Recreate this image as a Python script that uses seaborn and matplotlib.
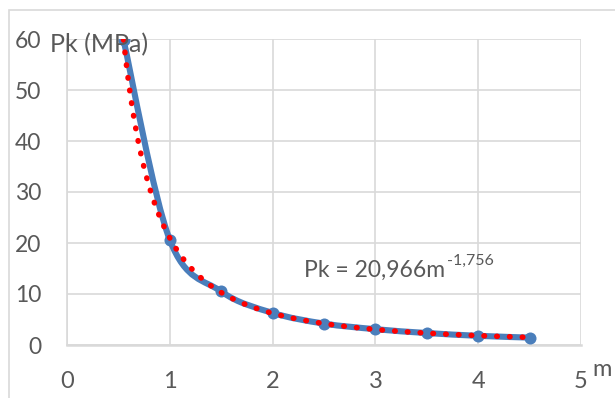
import numpy as np
import pandas as pd
import matplotlib
matplotlib.use("Agg")
import matplotlib.pyplot as plt
import seaborn as sns
from matplotlib.patches import Rectangle, PathPatch
from matplotlib.path import Path

# Data
m_values = [0.55, 1.0, 1.5, 2.0, 2.5, 3.0, 3.5, 4.0, 4.5]
pk_values = [59.8, 20.6, 10.5, 6.3, 4.2, 3.1, 2.35, 1.8, 1.45]
# Power trendline shown on the chart: Pk = 20,966 m^-1,756
trend_coef = 20.966
trend_exp = -1.756
x_ticks = [0, 1, 2, 3, 4, 5]
y_ticks = [0, 10, 20, 30, 40, 50, 60]

sns.set_theme(style="white")
plt.rcParams['font.family'] = ['Lato', 'DejaVu Sans']

W, H = 615, 398
fig = plt.figure(figsize=(W / 100, H / 100), dpi=100)
fig.patch.set_facecolor("white")
x0, x1, y0, y1 = 67, 581, 39, 345
ax = fig.add_axes([x0 / W, 1 - y1 / H, (x1 - x0) / W, (y1 - y0) / H])

BLUE = "#4a7ebb"
GREY = "#595959"
df = pd.DataFrame({"m": m_values, "Pk": pk_values})

# smoothed line through the data points (Excel-like smoothing, Bezier segments)
pts = df[["m", "Pk"]].to_numpy()
n = len(pts)
verts = [pts[0]]
codes = [Path.MOVETO]
for i in range(n - 1):
    p_prev = pts[i - 1] if i > 0 else pts[i]
    p_next2 = pts[i + 2] if i + 2 < n else pts[i + 1]
    c1 = pts[i] + (pts[i + 1] - p_prev) / 6.0
    c2 = pts[i + 1] - (p_next2 - pts[i]) / 6.0
    verts += [c1, c2, pts[i + 1]]
    codes += [Path.CURVE4] * 3
ax.add_patch(PathPatch(Path(verts, codes), transform=ax.transData, fill=False,
                       edgecolor=BLUE, linewidth=4.4, zorder=3,
                       capstyle="round", joinstyle="round"))
sns.scatterplot(data=df, x="m", y="Pk", ax=ax, color=BLUE, s=75,
                linewidth=0, zorder=3)

mt = np.linspace(min(m_values), max(m_values), 400)
trend_df = pd.DataFrame({"m": mt, "Pk": trend_coef * mt ** trend_exp})
sns.lineplot(data=trend_df, x="m", y="Pk", ax=ax, color="#ff0000",
             linewidth=4.0, linestyle=(0, (0.1, 2.2)), zorder=4)
ax.lines[-1].set_dash_capstyle("round")

ax.set_xlim(0, 5)
ax.set_ylim(0, 60)
ax.set_xticks(x_ticks)
ax.set_yticks(y_ticks)
ax.set_xticklabels([str(v) for v in x_ticks])
ax.set_yticklabels([str(v) for v in y_ticks])
ax.tick_params(axis="both", length=0, colors=GREY)
ax.tick_params(axis="y", pad=18.5, labelsize=16.5)
ax.tick_params(axis="x", pad=19, labelsize=17)
ax.grid(True, color="#d9d9d9", linewidth=1.2)
ax.set_axisbelow(True)
for s in ["top", "right"]:
    ax.spines[s].set_visible(False)
ax.spines["left"].set_color("#d9d9d9")
ax.spines["bottom"].set_color("#d9d9d9")
ax.spines["left"].set_linewidth(1.2)
ax.spines["bottom"].set_linewidth(1.8)
ax.set_xlabel("")
ax.set_ylabel("")

fig.text(50 / W, 1 - 45 / H, "Pk (MPa)", fontsize=18, color=GREY,
         va="center", ha="left")
fig.text(592 / W, 1 - 369 / H, "m", fontsize=17, color=GREY,
         va="center", ha="left")

# trendline equation with superscript exponent
eq = ax.text(2.31, 13.3, "Pk = 20,966m", fontsize=16.5, color=GREY,
             va="baseline", ha="left")
fig.canvas.draw()
bb = eq.get_window_extent()
base_y = ax.transData.transform((2.31, 13.3))[1]
ax.annotate("-1,756", xy=(bb.x1 + 1, base_y + 12), xycoords="figure pixels",
            fontsize=11.5, color=GREY, va="baseline", ha="left")

fig.patches.append(Rectangle((9 / W, -0.1), 1.2, 1 - 10 / H + 0.1,
                             transform=fig.transFigure, fill=False,
                             edgecolor="#d9d9d9", linewidth=1.2))

fig.savefig("out.png", dpi=100)
